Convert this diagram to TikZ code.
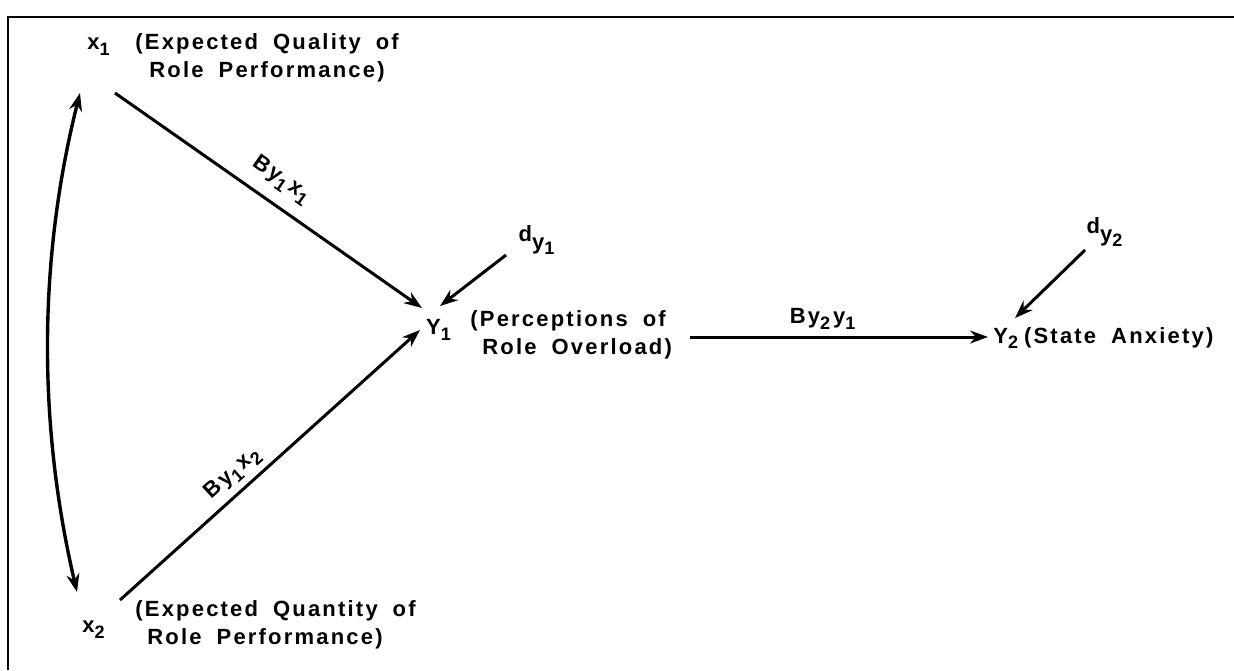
\documentclass[tikz,border=0pt]{standalone}
\usepackage{fontspec}
\setmainfont{Liberation Sans}[LetterSpace=10, WordSpace=1.8]
\usetikzlibrary{arrows.meta}
\newcommand\lo[1]{\raisebox{-0.5ex}{\fontsize{9}{9}\selectfont\bfseries #1}\kern1.5pt}
\tikzset{
  lbl/.style={font=\fontsize{11}{14}\selectfont\bfseries, inner sep=0pt, align=left},
  conn/.style={line width=1.5pt, -{Stealth[length=9pt,width=6.5pt]}},
  corr/.style={line width=1.7pt, {Stealth[length=9pt,width=6.5pt]}-{Stealth[length=9pt,width=6.5pt]}},
  frame/.style={line width=0.8pt}
}
\begin{document}
\begin{tikzpicture}[x=0.5pt,y=-0.5pt]
\useasboundingbox (0,0) rectangle (1234,670);
\draw[frame] (8,670) -- (8,17) -- (1234,17);

% nodes
\node[lbl] (x1) at (100,47) {x\lo{1}};
\node[lbl, anchor=west] (x1t) at (135,58) {(Expected Quality of\\\hspace{7pt}Role Performance)};
\node[lbl] (x2) at (95,630) {x\lo{2}};
\node[lbl, anchor=west] (x2t) at (135,625) {(Expected Quantity of\\\hspace{6pt}Role Performance)};
\node[lbl] (Y1) at (440,330) {Y\lo{1}};
\node[lbl, anchor=west] (Y1t) at (470,335) {(Perceptions of\\\hspace{6pt}Role Overload)};
\node[lbl, anchor=west] (Y2) at (993,338) {Y\lo{2}\kern1.5pt(State Anxiety)};
\node[lbl] (dy1) at (538,240) {d\raisebox{-0.7ex}{y\lo{1}}};
\node[lbl] (dy2) at (1106,232) {d\raisebox{-0.7ex}{y\lo{2}}};

% connector ends
\coordinate (x1o) at (115,93);
\coordinate (x2o) at (120,600);
\coordinate (Y1a) at (422,308);
\coordinate (Y1b) at (420,330);
\coordinate (Y1c) at (440,306);
\coordinate (Y1o) at (690,337);
\coordinate (Y2a) at (988,337);
\coordinate (Y2b) at (1015,318);
\coordinate (d1o) at (506,255);
\coordinate (d2o) at (1085,250);
\coordinate (c1) at (80,93);
\coordinate (c2) at (77,592);

\draw[conn] (x1o) -- node[lbl, sloped, above=6pt, pos=0.5] {By\lo{1}x\lo{1}} (Y1a);
\draw[conn] (x2o) -- node[lbl, sloped, above=3pt, pos=0.42] {By\lo{1}x\lo{2}} (Y1b);
\draw[conn] (d1o) -- (Y1c);
\draw[conn] (d2o) -- (Y2b);
\draw[conn] (Y1o) -- node[lbl, above=3pt, pos=0.45] {By\lo{2}y\lo{1}} (Y2a);
\draw[corr] (c1) .. controls (38,260) and (38,425) .. (c2);
\end{tikzpicture}
\end{document}
